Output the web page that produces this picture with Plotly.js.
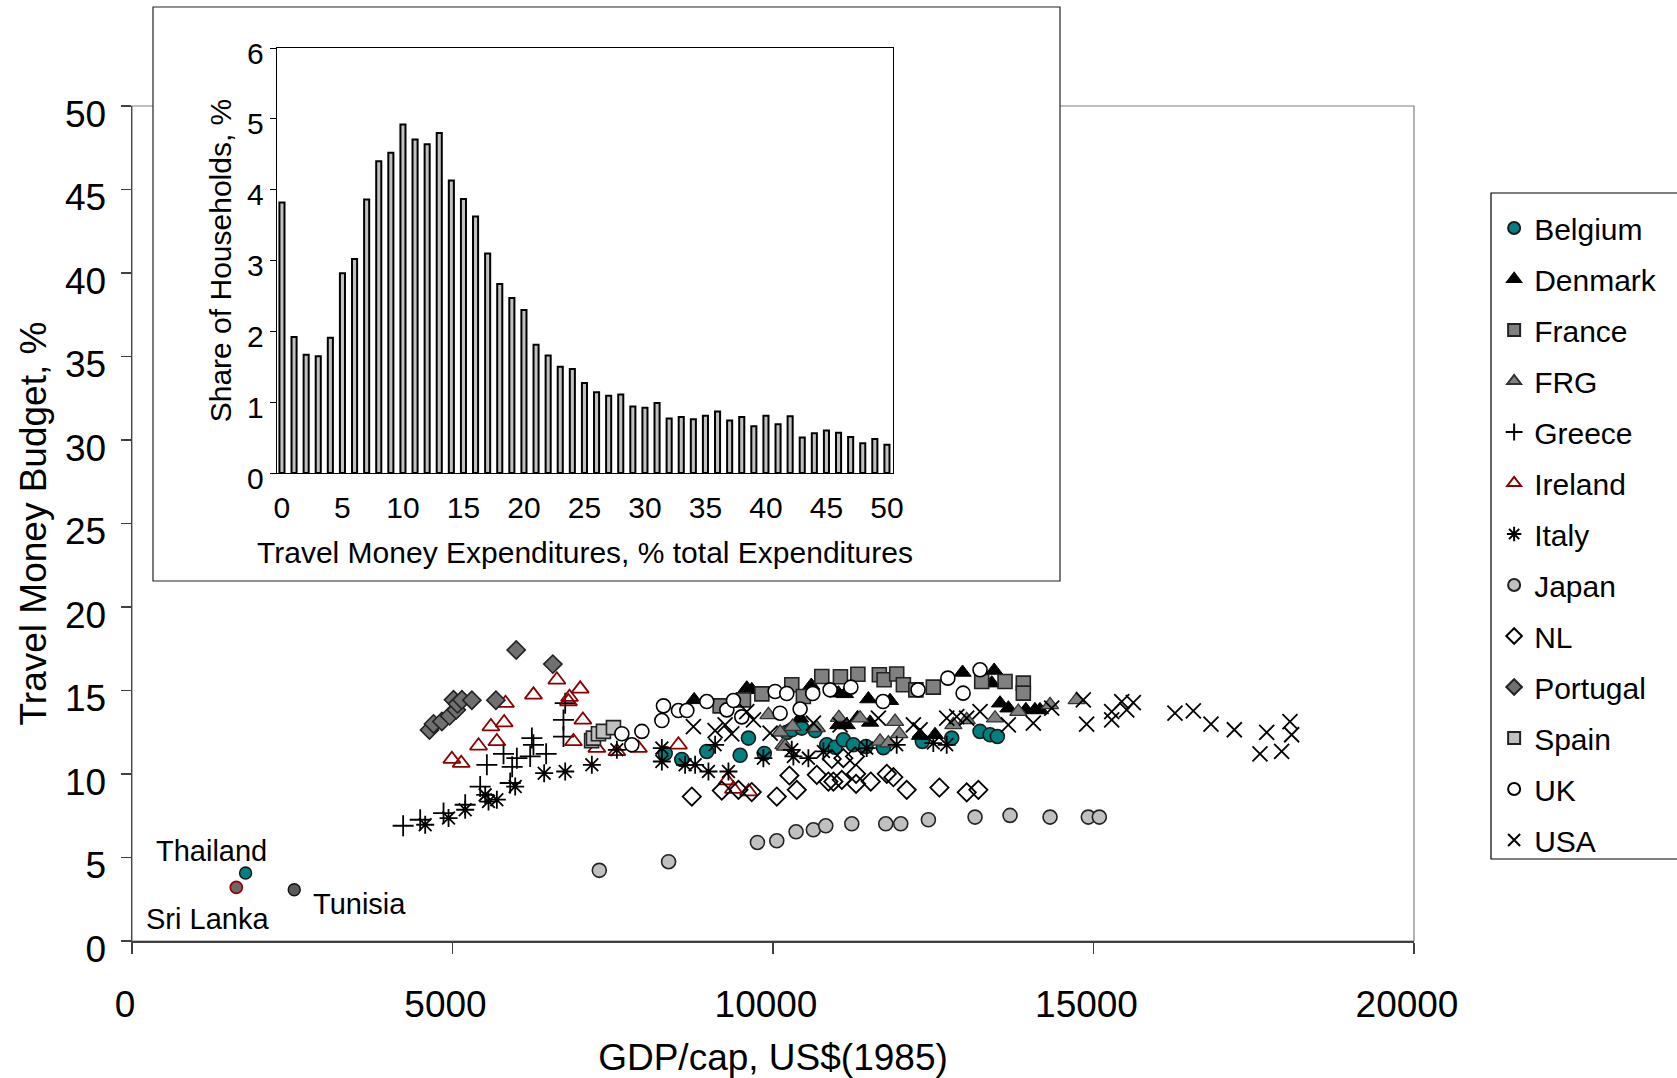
<!DOCTYPE html>
<html><head><meta charset="utf-8">
<script src="https://cdn.plot.ly/plotly-3.0.1.min.js"></script>
<style>html,body{margin:0;padding:0;background:#fff;}#chart{width:1677px;height:1078px;}</style>
</head><body><div id="chart"></div>
<script>
// ---------- Inset histogram data ----------
const histX = [0,1,2,3,4,5,6,7,8,9,10,11,12,13,14,15,16,17,18,19,20,21,22,23,24,25,26,27,28,29,30,31,32,33,34,35,36,37,38,39,40,41,42,43,44,45,46,47,48,49,50];
const histY = [3.82,1.92,1.67,1.65,1.91,2.82,3.02,3.86,4.40,4.52,4.92,4.71,4.64,4.80,4.13,3.87,3.62,3.10,2.67,2.47,2.30,1.81,1.66,1.50,1.47,1.27,1.14,1.09,1.11,0.94,0.92,0.99,0.77,0.79,0.76,0.81,0.87,0.74,0.79,0.66,0.81,0.69,0.80,0.50,0.56,0.60,0.57,0.51,0.42,0.48,0.40];
const histTicks = [0,5,10,15,20,25,30,35,40,45,50];

// ---------- Main scatter data (GDP/cap US$1985, Travel Money Budget %) ----------
const belgiumGdp = [8318,8577,8967,9487,9617,9864,10215,10293,10449,10657,10839,10969,11098,11254,11450,11722,12330,12788,13230,13386,13500];
const belgiumTmb = [11.23,10.87,11.35,11.12,12.15,11.23,12.49,12.65,12.75,12.6,11.75,11.6,12.05,11.75,11.65,11.58,11.95,12.15,12.55,12.35,12.25];

const denmarkGdp = [8770,9591,9669,10423,10597,11020,11124,11020,11151,11320,11515,11488,11826,12294,12528,12957,13412,13450,13542,13672,13945,14087,14165];
const denmarkTmb = [14.44,15.14,15.04,13.34,15.3,14.84,14.8,12.94,12.94,13.37,13.09,14.49,14.39,12.3,12.35,16.08,15.44,16.2,14.24,13.94,13.84,13.84,13.84];

const franceGdp = [9175,9539,9826,10293,10474,10761,11052,11324,11659,11733,11930,12034,12229,12501,13256,13620,13905,13905];
const franceTmb = [14.08,14.44,14.8,15.34,14.64,15.84,15.82,15.97,15.94,15.64,15.99,15.34,15.04,15.2,15.54,15.54,15.44,14.84];

const frgGdp = [9929,10111,10163,10189,10306,10683,11028,11358,11670,11800,11904,11969,12814,13022,13464,13827,14322,14738];
const frgTmb = [13.54,12.5,11.75,11.65,12.84,12.77,13.37,13.34,11.95,11.85,13.14,12.4,12.94,13.24,13.34,13.74,14.14,14.44];

const greeceGdp = [4230,4496,4860,5198,5432,5536,5796,5900,5931,6004,6212,6238,6263,6461,6731,6731,6758];
const greeceTmb = [6.9,7.26,7.66,8.16,9.25,10.55,11.21,9.46,10.43,10.95,11.05,12.15,11.75,11.21,12.24,13.24,14.24];

const irelandGdp = [4990,5136,5406,5599,5692,5806,5827,6263,6628,6809,6825,6887,6992,7034,7252,7564,7901,8525,9280,9383,9620];
const irelandTmb = [10.89,10.65,11.69,12.84,11.95,13.08,14.24,14.74,15.64,14.34,14.6,11.95,15.1,13.24,11.55,11.35,11.55,11.75,9.6,9.1,8.95];

const italyGdp = [4574,4938,5198,5510,5562,5692,5978,6430,6758,7174,7564,8266,8266,8629,8785,8993,9097,9305,9850,10293,10318,10552,10786,11462,11930,12501,12710];
const italyTmb = [6.96,7.36,7.86,8.75,8.35,8.46,9.25,10.05,10.15,10.55,11.45,11.55,10.75,10.55,10.55,10.15,11.75,10.15,10.95,11.45,11.05,10.95,11.35,11.55,11.75,11.85,11.75];

const japanGdp = [7290,8371,9757,10059,10360,10630,10823,11229,11759,11993,12424,13152,13698,14322,14919,15091];
const japanTmb = [4.23,4.75,5.9,6.0,6.54,6.66,6.9,7.02,7.02,7.02,7.26,7.42,7.52,7.42,7.42,7.42];

const nlGdp = [8733,9201,9461,9669,10059,10256,10371,10683,10864,10917,10942,11073,11098,11280,11296,11296,11525,11775,11878,12086,12596,13022,13204];
const nlTmb = [8.65,9.01,9.05,8.92,8.65,9.91,9.05,9.95,9.55,10.9,9.55,9.65,10.95,11.05,10.01,9.41,9.55,10.01,9.81,9.05,9.19,8.9,9.05];

const portugalGdp = [4641,4704,4835,4954,5016,5058,5079,5147,5302,5677,5994,6565];
const portugalTmb = [12.64,13.0,13.14,13.48,14.44,13.84,14.2,14.44,14.42,14.42,17.43,16.58];

const spainGdp = [7170,7199,7277,7355,7511];
const spainTmb = [12.0,12.15,12.41,12.55,12.78];

const ukGdp = [7642,7798,7954,8266,8291,8525,8656,8967,9280,9383,9513,10033,10111,10215,10423,10620,10890,11215,11717,12263,12728,12966,13230];
const ukTmb = [12.41,11.75,12.55,13.2,14.08,13.8,13.8,14.34,13.84,14.4,13.42,14.94,13.64,14.82,13.89,14.82,15.04,15.2,14.34,15.04,15.74,14.84,16.24];

const usaGdp = [8758,9097,9253,9357,9591,9695,9955,10630,11047,11644,12190,12294,12710,12866,13022,13230,13671,14061,14348,14841,14893,15284,15284,15440,15518,15621,16271,16557,16833,17197,17597,17702,17935,18065,18091];
const usaTmb = [12.84,12.6,12.94,12.4,13.74,13.24,12.45,13.04,12.94,13.34,12.94,12.64,13.34,13.44,13.34,13.74,12.94,13.04,13.94,14.44,12.99,13.74,13.24,14.34,13.84,14.28,13.64,13.78,12.99,12.65,11.21,12.49,11.35,13.14,12.35];

// Developing-country single points
const thailandGdp = [1772]; const thailandTmb = [4.07];
const sriLankaGdp = [1627]; const sriLankaTmb = [3.21];
const tunisiaGdp = [2531];  const tunisiaTmb = [3.07];

const mainXTicks = [0,5000,10000,15000,20000];
const mainYTicks = [0,5,10,15,20,25,30,35,40,45,50];
const insetYTicks = [0,1,2,3,4,5,6];

// ---------- Styling ----------
const FONT = 'Arial, "Liberation Sans", sans-serif';
const AX = '#404040';

function sc(name, x, y, marker, showlegend) {
  return {type:'scatter', mode:'markers', name:name, legendgroup:name, x:x, y:y,
          xaxis:'x', yaxis:'y', marker:marker, showlegend:showlegend !== false, hoverinfo:'skip'};
}

const data = [
  sc('Belgium',  belgiumGdp,  belgiumTmb,  {symbol:'circle', size:14, color:'#008080', line:{color:'#1a1a1a', width:1.6}}),
  sc('Denmark',  denmarkGdp,  denmarkTmb,  {symbol:'triangle-up', size:15, color:'#000000', line:{color:'#000000', width:1}}),
  sc('France',   franceGdp,   franceTmb,   {symbol:'square', size:14, color:'#808080', line:{color:'#222222', width:1.6}}),
  sc('FRG',      frgGdp,      frgTmb,      {symbol:'triangle-up', size:15, color:'#808080', line:{color:'#333333', width:1.3}}),
  sc('Greece',   greeceGdp,   greeceTmb,   {symbol:'cross-thin-open', size:15, color:'#000000', line:{color:'#000000', width:1.8}}),
  sc('Ireland',  irelandGdp,  irelandTmb,  {symbol:'triangle-up-open', size:15, color:'#8b0000', line:{color:'#8b0000', width:1.8}}),
  sc('Italy',    italyGdp,    italyTmb,    {symbol:'asterisk-open', size:15, color:'#000000', line:{color:'#000000', width:1.8}}),
  sc('Japan',    japanGdp,    japanTmb,    {symbol:'circle', size:14, color:'#c0c0c0', line:{color:'#222222', width:1.6}}),
  sc('NL',       nlGdp,       nlTmb,       {symbol:'diamond-open', size:14, color:'#000000', line:{color:'#000000', width:1.8}}),
  sc('Portugal', portugalGdp, portugalTmb, {symbol:'diamond', size:14, color:'#707070', line:{color:'#222222', width:1.6}}),
  sc('Spain',    spainGdp,    spainTmb,    {symbol:'square', size:14, color:'#c0c0c0', line:{color:'#222222', width:1.6}}),
  sc('UK',       ukGdp,       ukTmb,       {symbol:'circle', size:14, color:'#ffffff', line:{color:'#000000', width:1.6}}),
  sc('USA',      usaGdp,      usaTmb,      {symbol:'x-thin-open', size:15, color:'#000000', line:{color:'#000000', width:1.8}}),
  sc('Thailand', thailandGdp, thailandTmb, {symbol:'circle', size:12, color:'#008080', line:{color:'#111111', width:1.4}}, false),
  sc('Sri Lanka',sriLankaGdp, sriLankaTmb, {symbol:'circle', size:12, color:'#696969', line:{color:'#990000', width:1.7}}, false),
  sc('Tunisia',  tunisiaGdp,  tunisiaTmb,  {symbol:'circle', size:12, color:'#5a5a5a', line:{color:'#111111', width:1.4}}, false),
  {type:'bar', x:histX, y:histY, xaxis:'x2', yaxis:'y2', width:0.42, showlegend:false, hoverinfo:'skip',
   marker:{color:'#c0c0c0', line:{color:'#000000', width:2}}}
];

// plot area: l=132, r=263 -> width 1282 ; t=40, b=137 -> height 901
const layout = {
  width:1677, height:1078, autosize:false,
  margin:{l:132, r:263, t:40, b:137, pad:0},
  paper_bgcolor:'#ffffff', plot_bgcolor:'rgba(0,0,0,0)',
  font:{family:FONT, color:'#000000'},
  showlegend:true,
  bargap:0,
  xaxis:{domain:[0,1], anchor:'y', range:[0,20000], tickvals:mainXTicks, ticktext:mainXTicks.map(String),
         showline:true, linecolor:AX, linewidth:1.5, ticks:'outside', ticklen:11, tickcolor:AX, tickwidth:1.2,
         showgrid:false, zeroline:false, tickfont:{size:37, family:FONT}, ticklabelstandoff:19, ticklabelshift:-7,
         title:{text:'GDP/cap, US$(1985)', font:{size:37, family:FONT}, standoff:27}},
  yaxis:{domain:[0,0.92675], anchor:'x', range:[0,50], tickvals:mainYTicks, ticktext:mainYTicks.map(String),
         showline:true, linecolor:AX, linewidth:1.5, ticks:'outside', ticklen:10, tickcolor:AX, tickwidth:1.2,
         showgrid:false, zeroline:false, tickfont:{size:37, family:FONT}, ticklabelstandoff:7, ticklabelshift:8,
         title:{text:'Travel Money Budget, %', font:{size:37, family:FONT}, standoff:7}},
  xaxis2:{domain:[0.1131,0.5936], anchor:'y2', range:[-0.41,50.5], tickvals:histTicks, ticktext:histTicks.map(String),
          showline:true, mirror:true, linecolor:'#000000', linewidth:1.3, ticks:'', showgrid:false, zeroline:false,
          tickfont:{size:30, family:FONT}, ticklabelstandoff:8,
          title:{text:'Travel Money Expenditures, % total Expenditures', font:{size:30, family:FONT}, standoff:18}},
  yaxis2:{domain:[0.51942,0.99112], anchor:'x2', range:[0,6], tickvals:insetYTicks, ticktext:insetYTicks.map(String),
          showline:true, mirror:true, linecolor:'#000000', linewidth:1.3, ticks:'outside', ticklen:6, tickcolor:'#000000',
          showgrid:false, zeroline:false, tickfont:{size:30, family:FONT}, ticklabelstandoff:0, ticklabelshift:5,
          title:{text:'Share of Households, %', font:{size:30, family:FONT}, standoff:6}},
  shapes:[
    {type:'rect', xref:'paper', yref:'paper', x0:0, x1:1, y0:0, y1:0.92675, layer:'below',
     line:{color:'#808080', width:1.2}, fillcolor:'rgba(0,0,0,0)'},
    {type:'rect', xref:'paper', yref:'paper', x0:0.01638, x1:0.72387, y0:0.39956, y1:1.03663, layer:'below',
     line:{color:'#222222', width:1.2}, fillcolor:'#ffffff'},
    // legend frame (runs off the right edge of the page, as in the original)
    {type:'rect', xref:'paper', yref:'paper', x0:1.06006, x1:1.25, y0:0.09101, y1:0.83019, layer:'below',
     line:{color:'#000000', width:1.2}, fillcolor:'#ffffff'}
  ],
  legend:{x:1.0625, y:0.8202, xanchor:'left', yanchor:'top', bgcolor:'rgba(0,0,0,0)', borderwidth:0,
          font:{size:30, family:FONT}, tracegroupgap:9, traceorder:'grouped', itemsizing:'constant'},
  annotations:[
    {x:thailandGdp[0], y:thailandTmb[0], xref:'x', yref:'y', text:'Thailand', showarrow:false,
     xanchor:'left', yanchor:'middle', xshift:-92, yshift:22, font:{size:29, family:FONT}},
    {x:sriLankaGdp[0], y:sriLankaTmb[0], xref:'x', yref:'y', text:'Sri Lanka', showarrow:false,
     xanchor:'left', yanchor:'middle', xshift:-92, yshift:-32, font:{size:29, family:FONT}},
    {x:tunisiaGdp[0], y:tunisiaTmb[0], xref:'x', yref:'y', text:'Tunisia', showarrow:false,
     xanchor:'left', yanchor:'middle', xshift:17, yshift:-14, font:{size:29, family:FONT}}
  ]
};

Plotly.newPlot('chart', data, layout, {displayModeBar:false, staticPlot:true});
</script></body></html>
